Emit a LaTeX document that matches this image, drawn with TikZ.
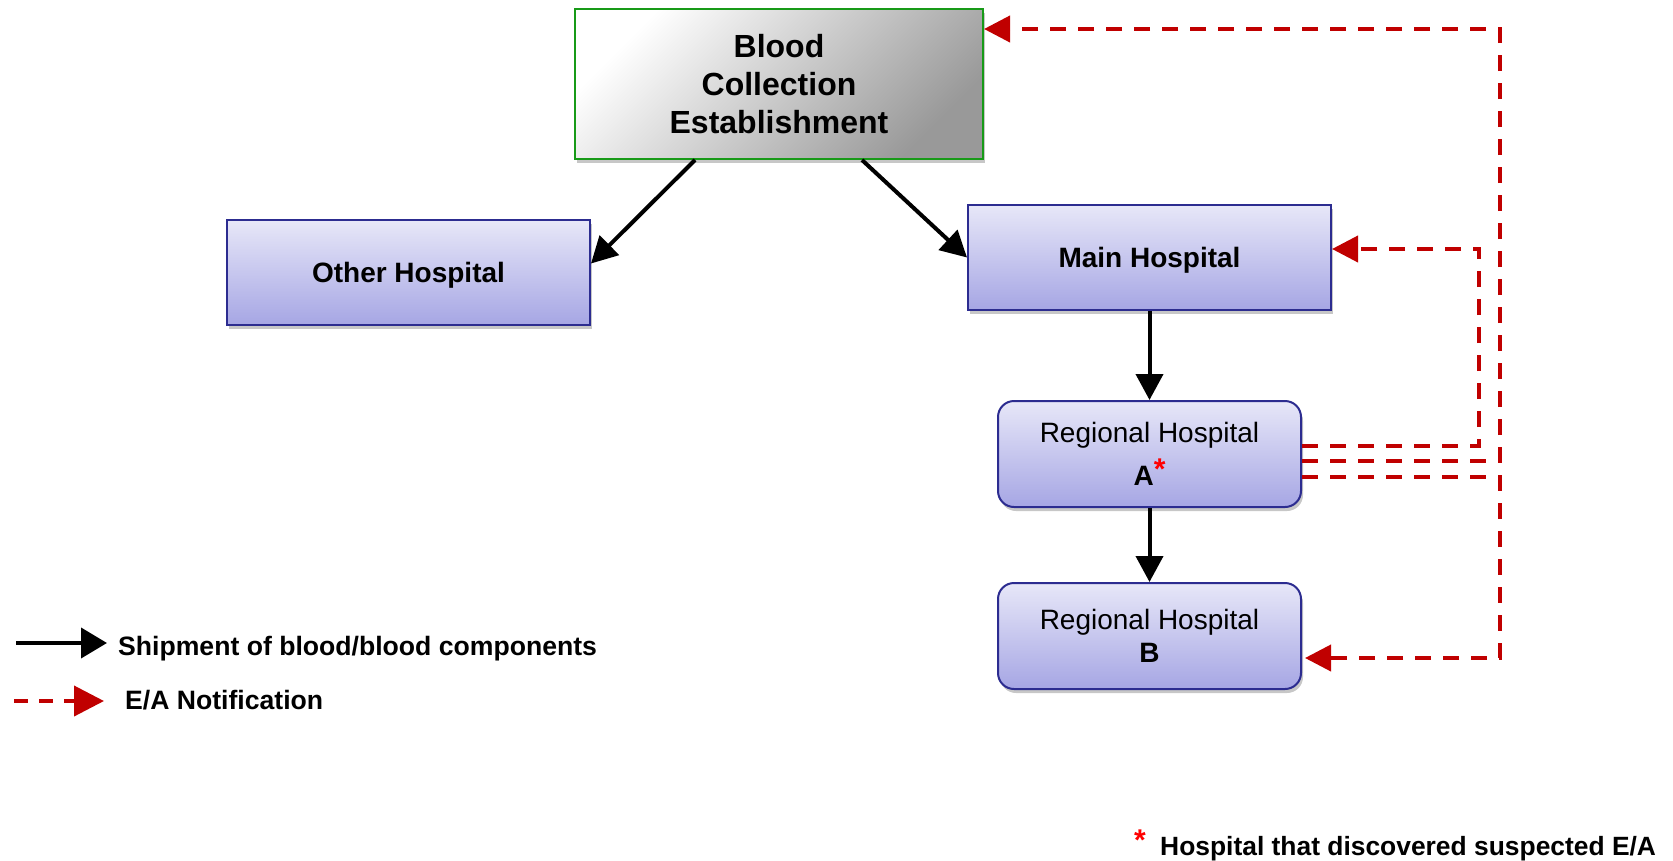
\documentclass[tikz,border=0pt]{standalone}
\usepackage{fontspec}
\setmainfont{Liberation Sans}
\usetikzlibrary{arrows.meta,shadows}
\definecolor{eared}{HTML}{C00000}
\definecolor{bxborder}{RGB}{44,44,144}
\definecolor{bxtop}{RGB}{231,231,248}
\definecolor{bxbot}{RGB}{166,166,228}
\definecolor{bcegreen}{RGB}{24,154,24}
\begin{document}
\begin{tikzpicture}[x=1pt,y=-1pt,
  shad/.style={drop shadow={shadow xshift=2pt,shadow yshift=-4pt,fill=black,opacity=0.22}},
  hosp/.style={draw=bxborder,line width=2pt,top color=bxtop,bottom color=bxbot,shad,
    inner sep=0pt,align=center,text=black},
  sqhosp/.style={hosp,minimum width=363pt,minimum height=105pt,text depth=0pt,
    font=\fontsize{28}{33}\selectfont\bfseries},
  rhosp/.style={hosp,rounded corners=16pt,minimum width=303pt,minimum height=106pt},
  bcebox/.style={draw=bcegreen,line width=2pt,top color=white,bottom color=black!40,
    shading angle=45,shad,inner sep=0pt,align=center,minimum width=408pt,minimum height=150pt,
    font=\fontsize{32}{38.4}\selectfont\bfseries},
  ship/.style={line width=4pt,-{Triangle[length=26pt,width=27pt]}},
  ea/.style={eared,line width=4pt,dash pattern=on 16pt off 12pt,-{Triangle[length=26pt,width=26pt]}},
  legtext/.style={anchor=west,inner sep=0pt,font=\fontsize{26.6}{30}\selectfont\bfseries}
]
\useasboundingbox (0,0) rectangle (1673,860);

% boxes
\node[bcebox] (bce) at (779,84) {Blood\\Collection\\Establishment};
\node[sqhosp] (other) at (408.5,272.5) {Other Hospital};
\node[sqhosp] (main) at (1149.5,257.5) {Main Hospital};
\node[rhosp,font=\fontsize{28}{43}\selectfont] (ra) at (1149.5,454)
  {Regional Hospital\\\textbf{A}\raisebox{6pt}{\fontsize{30}{30}\selectfont\bfseries\textcolor{red}{*}}};
\node[rhosp,font=\fontsize{28}{33}\selectfont] (rb) at (1149.5,636)
  {Regional Hospital\\\textbf{B}};

% shipments
\draw[ship] ([xshift=-84pt]bce.south) -- ([yshift=9pt]other.east);
\draw[ship] ([xshift=83pt]bce.south) -- (main.west);
\draw[ship] (main.south) -- (ra.north);
\draw[ship] (ra.south) -- (rb.north);

% E/A notifications
\coordinate (c1) at (1479,0);
\coordinate (c2) at (1500,0);
\draw[ea] ([yshift=8pt]ra.east) -- ([yshift=8pt]ra.east -| c1) |- ([yshift=8.5pt]main.east);
\draw[ea] ([yshift=-7pt]ra.east) -- ([yshift=-7pt]ra.east -| c2) |- ([yshift=55pt]bce.east);
\draw[ea] ([yshift=-23pt]ra.east) -- ([yshift=-23pt]ra.east -| c2) |- ([xshift=3pt,yshift=-22pt]rb.east);

% legend
\coordinate (ls1) at (16,643);
\coordinate (le1) at (107,643);
\draw[ship,-{Triangle[length=26pt,width=30pt]}] (ls1) -- (le1);
\node[legtext] (lt1) at (118,649) {Shipment of blood/blood components};
\coordinate (ls2) at (14,701);
\coordinate (le2) at (104,701);
\draw[ea,-{Triangle[length=30pt,width=30pt]},dash pattern=on 14pt off 11pt] (ls2) -- (le2);
\node[legtext] (lt2) at (125,700) {E/A Notification};

% footnote
\node[anchor=base west,inner sep=0pt,text=red,font=\fontsize{30}{30}\selectfont\bfseries] (fs) at (1134,850) {*};
\node[anchor=base west,inner sep=0pt,font=\fontsize{26.4}{30}\selectfont\bfseries] (ft) at (1160,855) {Hospital that discovered suspected E/A};
\end{tikzpicture}
\end{document}
